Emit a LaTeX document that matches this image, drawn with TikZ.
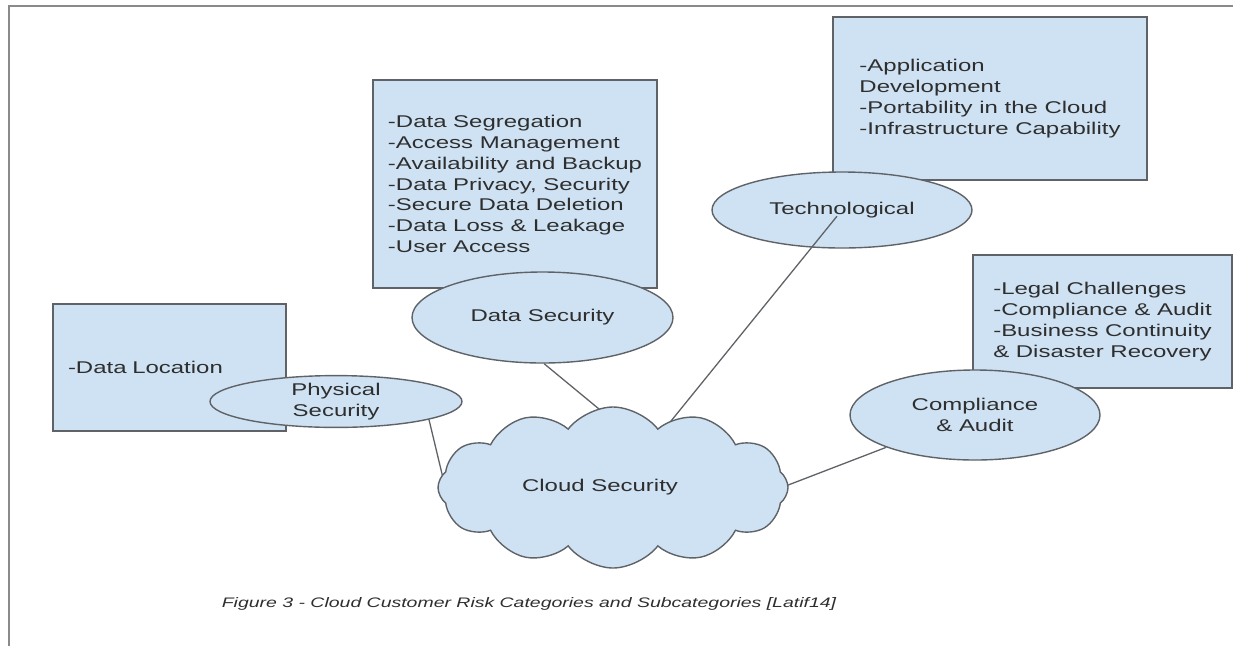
\documentclass[tikz,border=0pt]{standalone}
\usepackage{fontspec}
\setmainfont{Liberation Sans}[FakeStretch=1.41]
\usetikzlibrary{shapes.geometric,shapes.symbols}
\definecolor{fillblue}{HTML}{CFE2F3}
\definecolor{edgegray}{HTML}{5F6368}
\definecolor{txtgray}{HTML}{2E2E2E}
\definecolor{framegray}{HTML}{8A8A8A}
\newcommand{\bodyfont}{\fontsize{17}{20.8}\selectfont}
\newcommand{\capfont}{\fontsize{13.8}{16}\selectfont\itshape}
\tikzset{
  box/.style={draw=edgegray, fill=fillblue, line width=1.4pt, inner sep=0pt,
    align=left, font=\bodyfont, text=txtgray},
  oval/.style={ellipse, draw=edgegray, fill=fillblue, line width=1.4pt,
    inner sep=0pt, align=center, font=\bodyfont, text=txtgray},
  puffy/.style={cloud, cloud puffs=12, cloud puff arc=105, aspect=2.2,
    draw=edgegray, fill=fillblue, line width=1.4pt, inner sep=0pt,
    font=\bodyfont, text=txtgray},
  link/.style={draw=edgegray, line width=1.3pt},
  frameline/.style={draw=framegray, line width=2pt},
  captext/.style={font=\capfont, text=txtgray, inner sep=0pt}
}
\begin{document}
\begin{tikzpicture}[x=1pt, y=-1pt]
\useasboundingbox (0,0) rectangle (1233,646);
% frame
\coordinate (fa) at (9,646);
\coordinate (fb) at (9,6);
\coordinate (fc) at (1233,6);
\draw[frameline] (fa) -- (fb) -- (fc);

% boxes
\node[box, inner xsep=15pt, text width=203pt, minimum height=127pt] (locbox) at (169.5,367.5) {-Data Location};
\node[box, minimum width=284pt, minimum height=208pt] (dsecbox) at (515,184)
  {-Data Segregation\\-Access Management\\-Availability and Backup\\-Data Privacy, Security\\-Secure Data Deletion\\-Data Loss \& Leakage\\-User Access};
\node[box, minimum width=314pt, minimum height=163pt] (techbox) at (990,98.5)
  {-Application\\Development\\-Portability in the Cloud\\-Infrastructure Capability};
\node[box, minimum width=259pt, minimum height=133pt] (compbox) at (1102.5,321.5)
  {-Legal Challenges\\-Compliance \& Audit\\-Business Continuity\\\& Disaster Recovery};

% ellipses
\node[oval, minimum width=252pt, minimum height=47pt] (phys) at (336,401.5) {Physical\\Security};
\node[oval, minimum width=261pt, minimum height=91pt] (dsec) at (542.5,317.5) {Data Security};
\node[oval, minimum width=260pt, minimum height=76pt] (tech) at (842,210) {Technological};
\node[oval, minimum width=250pt, minimum height=90pt] (comp) at (975,415) {Compliance\\\& Audit};

% cloud position and connector ends
\coordinate (cc) at (613,487.5);
\coordinate (cphys) at ([shift={(-170,-9.5)}]cc);
\coordinate (cdsec) at ([shift={(6,-62)}]cc);
\coordinate (ctech) at ([shift={(56,-64)}]cc);
\coordinate (ccomp) at ([shift={(170,-0.5)}]cc);

% connectors (cloud drawn over their ends)
\draw[link] (phys.-11) -- (cphys);
\draw[link] (dsec.-88) -- (cdsec);
\draw[link, shorten <=8pt] (tech.center) -- (ctech);
\draw[link] (comp.200) -- (ccomp);

% cloud
\node[puffy, minimum width=350pt, minimum height=161pt] (cs) at (cc) {\hspace*{-26pt}Cloud Security};

% caption
\node[captext] (caption) at (529,604) {Figure 3 - Cloud Customer Risk Categories and Subcategories [Latif14]};
\end{tikzpicture}
\end{document}
